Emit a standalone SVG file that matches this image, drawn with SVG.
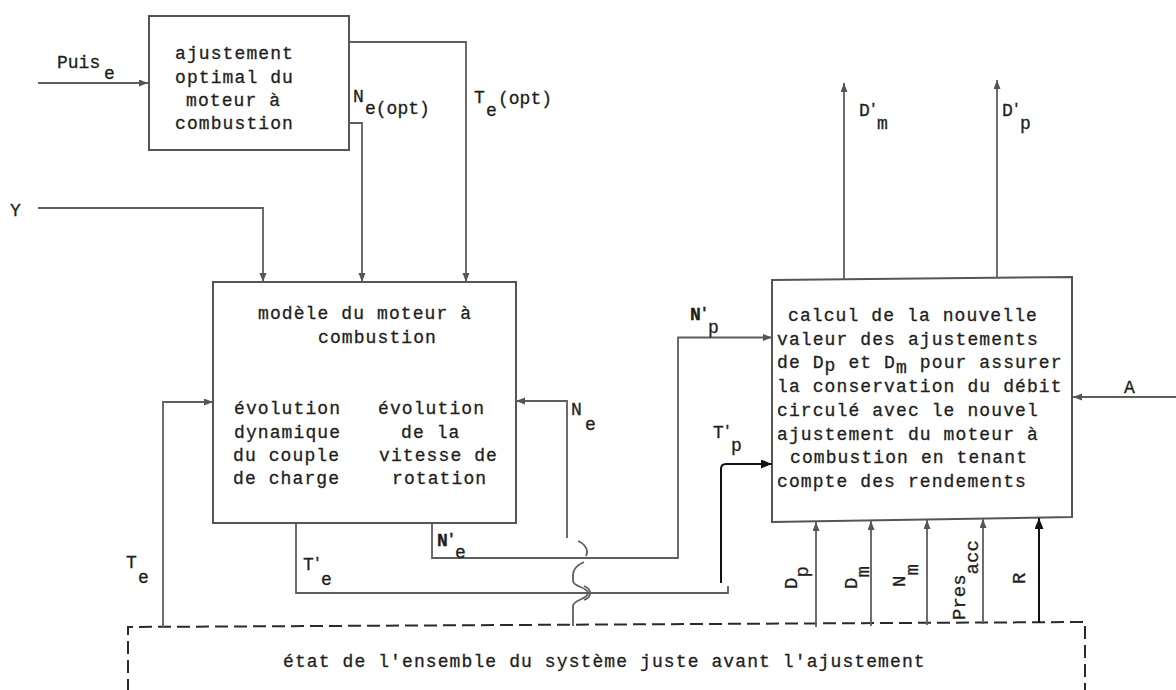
<svg xmlns="http://www.w3.org/2000/svg" width="1176" height="690" viewBox="0 0 1176 690">
<style>
.box{fill:none;stroke:#555;stroke-width:2}
.ln{fill:none;stroke:#5e5e5e;stroke-width:1.8}
.lnk{fill:none;stroke:#111;stroke-width:2}
.arr{marker-end:url(#ah)}
.arrk{marker-end:url(#ahk)}
.t{font-family:"Liberation Mono","DejaVu Sans Mono",monospace;font-size:18px;letter-spacing:1.1px;fill:#1e1e1e;stroke:#1e1e1e;stroke-width:0.3}
.lb{font-family:"Liberation Mono","DejaVu Sans Mono",monospace;font-size:18px;fill:#1e1e1e;stroke:#1e1e1e;stroke-width:0.3}
.lr{font-family:"Liberation Mono","DejaVu Sans Mono",monospace;font-size:19px;fill:#1e1e1e;stroke:#1e1e1e;stroke-width:0.3}
.pr{font-size:12px;stroke-width:0.6}
.b{font-weight:bold}
.dash{fill:none;stroke:#2a2a2a;stroke-width:2;stroke-dasharray:13,6}
</style>
<defs>
<marker id="ah" markerUnits="userSpaceOnUse" markerWidth="10" markerHeight="8" refX="9" refY="3.5" orient="auto"><path d="M0,0 L9,3.5 L0,7 z" fill="#555"/></marker>
<marker id="ahk" markerUnits="userSpaceOnUse" markerWidth="12" markerHeight="10" refX="11" refY="4.5" orient="auto"><path d="M0,0 L11,4.5 L0,9 z" fill="#111"/></marker>
</defs>

<g id="top-box">
<rect class="box" x="149" y="16" width="200" height="134"/>
<text class="t" x="175" y="59">ajustement</text>
<text class="t" x="175" y="83">optimal du</text>
<text class="t" x="186" y="106">moteur à</text>
<text class="t" x="175" y="129">combustion</text>
</g>

<g id="model-box">
<rect class="box" x="213" y="282" width="303" height="241"/>
<text class="t" x="258" y="319">modèle du moteur à</text>
<text class="t" x="318" y="343">combustion</text>
<text class="t" x="234" y="414">évolution</text>
<text class="t" x="378" y="414">évolution</text>
<text class="t" x="234" y="438">dynamique</text>
<text class="t" x="401" y="438">de la</text>
<text class="t" x="233" y="461">du couple</text>
<text class="t" x="379" y="461">vitesse de</text>
<text class="t" x="233" y="484">de charge</text>
<text class="t" x="392" y="484">rotation</text>
</g>

<g id="calc-box">
<polygon class="box" points="772,280 1072,277 1072,517 772,522"/>
<text class="t" x="788" y="321">calcul de la nouvelle</text>
<text class="t" x="777" y="345">valeur des ajustements</text>
<text class="t" x="777" y="368">de D<tspan dy="3">p</tspan><tspan dy="-3"> et D</tspan><tspan dy="5">m</tspan><tspan dy="-5"> pour assurer</tspan></text>
<text class="t" x="777" y="392">la conservation du débit</text>
<text class="t" x="777" y="416">circulé avec le nouvel</text>
<text class="t" x="777" y="440">ajustement du moteur à</text>
<text class="t" x="790" y="463">combustion en tenant</text>
<text class="t" x="777" y="487">compte des rendements</text>
</g>

<g id="state-box">
<path class="dash" d="M128,692 L128,627 L1085,622 L1085,692"/>
<text class="t" x="283" y="667">état de l'ensemble du système juste avant l'ajustement</text>
</g>

<g id="connectors">
<path class="ln arr" d="M38,83 H148"/>
<path class="ln arr" d="M349,42 H466 V282"/>
<path class="ln arr" d="M349,123 H362 V282"/>
<path class="ln arr" d="M38,208 H263 V282"/>
<path class="ln arr" d="M163,627 V402 H213"/>
<path class="ln arr" d="M567,538 V401 H516"/>
<path class="ln" d="M578,541 C585,544 589,550 586,556"/>
<path class="ln" d="M584,562 C577,565 573,569 573,575 L573,581 C573,587 588,587 588,593 C588,599 573,600 573,606 L573,626"/>
<path class="ln" d="M584,586 C592,589 592,597 584,600"/>
<path class="ln arr" d="M432,523 V558 H678 V337.5 H772"/>
<path class="ln" d="M296,523 V593 H728 V586"/>
<path class="lnk arrk" d="M721,583 V469 Q721,464 726,464 H772"/>
<path class="ln arr" d="M844,279 V83"/>
<path class="ln arr" d="M997,278 V80"/>
<path class="ln arr" d="M1176,397 H1073"/>
<path class="ln arr" d="M816,627 V522"/>
<path class="ln arr" d="M871,626 V521"/>
<path class="ln arr" d="M927,625 V520"/>
<path class="ln arr" d="M983,624 V519"/>
<path class="lnk arrk" d="M1039,623 V518"/>
</g>

<g id="labels">
<text class="lb" x="57" y="68">Puis<tspan x="104" y="79">e</tspan></text>
<text class="lb" x="353" y="102">N<tspan x="365" y="114">e(opt)</tspan></text>
<text class="lb" x="474" y="103">T<tspan x="486" y="116">e</tspan><tspan x="498" y="104">(opt)</tspan></text>
<text class="lb" x="10" y="216">Y</text>
<text class="lb" x="859" y="116">D<tspan class="pr" x="869.8" y="112">'</tspan><tspan x="877" y="129">m</tspan></text>
<text class="lb" x="1002" y="116">D<tspan class="pr" x="1012.8" y="112">'</tspan><tspan x="1020" y="129">p</tspan></text>
<text class="lb b" x="690" y="320">N<tspan class="pr" x="700.8" y="316">'</tspan><tspan x="708" y="333" font-weight="normal">p</tspan></text>
<text class="lb" x="713" y="438">T<tspan class="pr" x="723.8" y="434">'</tspan><tspan x="731" y="451">p</tspan></text>
<text class="lb" x="571" y="415">N<tspan x="585" y="430">e</tspan></text>
<text class="lb" x="1124" y="393">A</text>
<text class="lb" x="126" y="568">T<tspan x="138" y="583">e</tspan></text>
<text class="lb" x="303" y="570">T<tspan class="pr" x="313.8" y="566">'</tspan><tspan x="321" y="585">e</tspan></text>
<text class="lb b" x="437" y="546">N<tspan class="pr" x="447.8" y="542">'</tspan><tspan x="455" y="558" font-weight="normal">e</tspan></text>
<text class="lr" transform="translate(797,589) rotate(-90)">D<tspan dy="11">p</tspan></text>
<text class="lr" transform="translate(857,589) rotate(-90)">D<tspan dy="12">m</tspan></text>
<text class="lr" transform="translate(905,587) rotate(-90)">N<tspan dy="13">m</tspan></text>
<text class="lr" transform="translate(965,620) rotate(-90)">Pres<tspan dy="13">acc</tspan></text>
<text class="lr" transform="translate(1025,584) rotate(-90)">R</text>
</g>
</svg>
